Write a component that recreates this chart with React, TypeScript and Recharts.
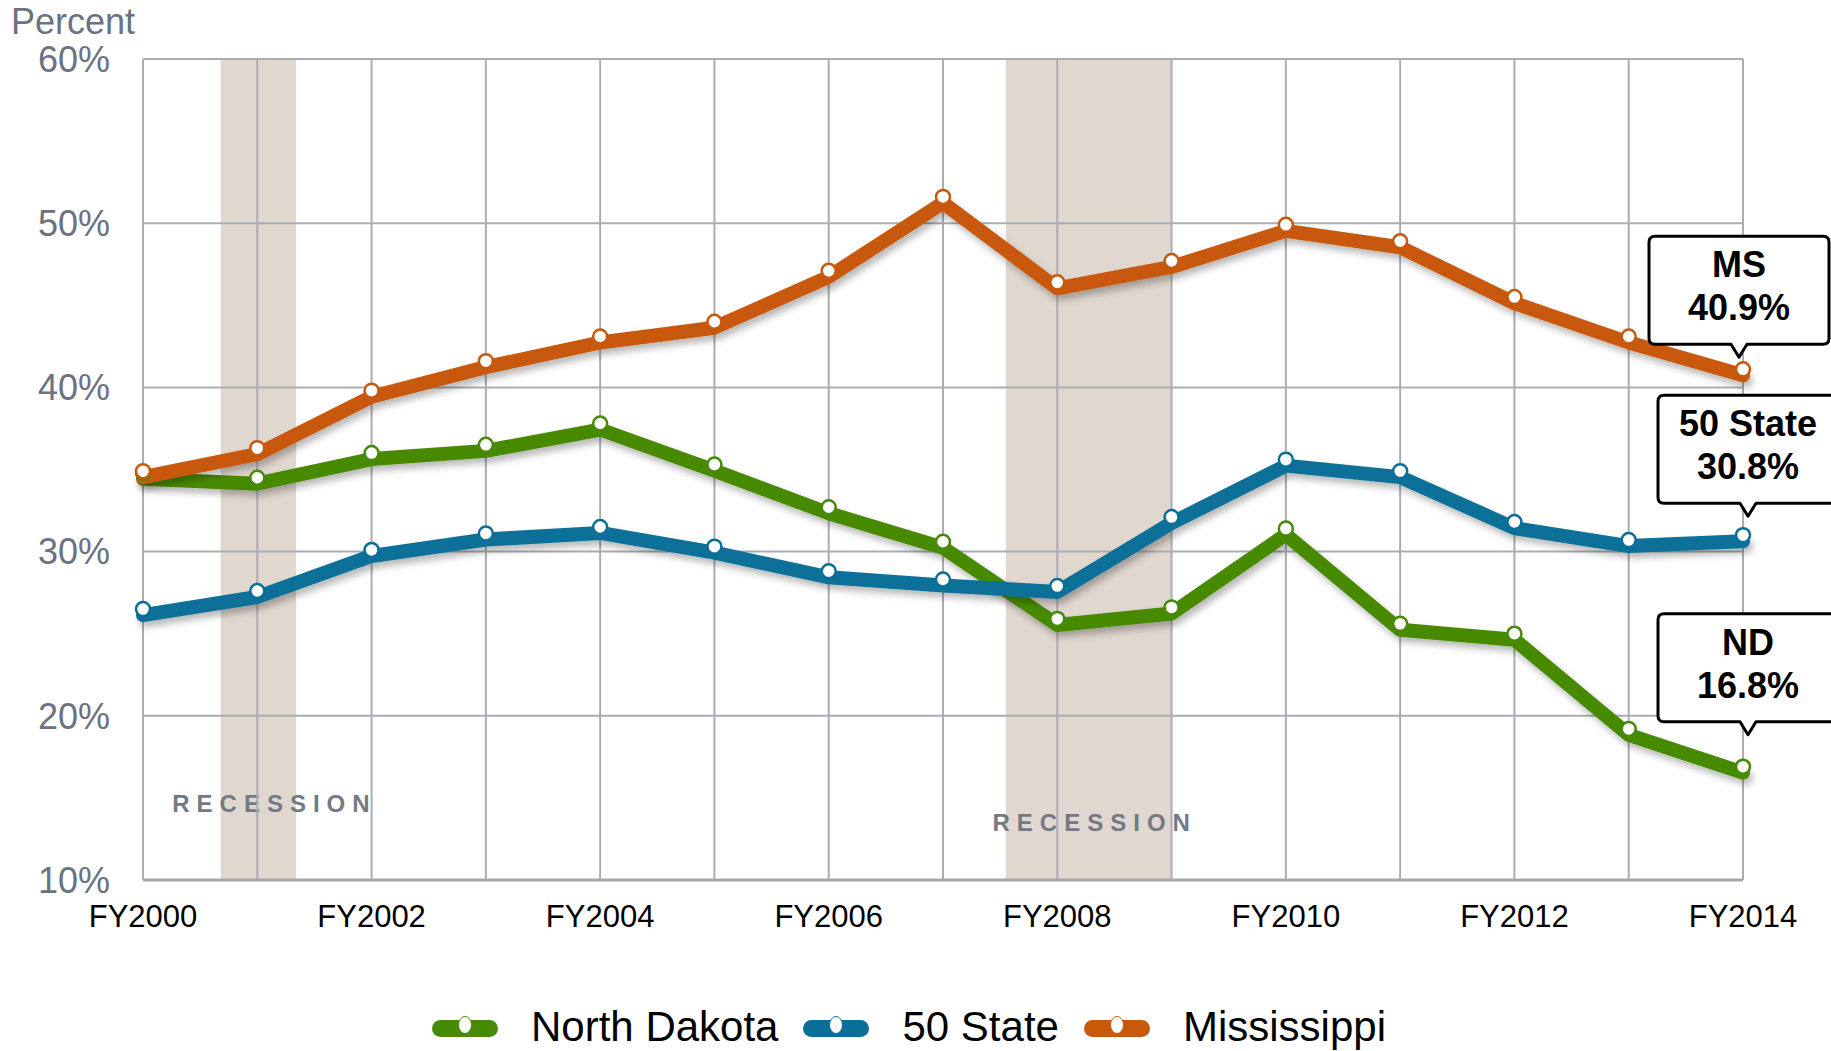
import React from 'react';
import {
  LineChart,
  Line,
  XAxis,
  YAxis,
  ReferenceLine,
  ReferenceArea,
  LabelList,
  Legend,
} from 'recharts';

const YEARS = [2000, 2001, 2002, 2003, 2004, 2005, 2006, 2007, 2008, 2009, 2010, 2011, 2012, 2013, 2014];
const X_TICK_YEARS = [2000, 2002, 2004, 2006, 2008, 2010, 2012, 2014];
const Y_TICKS = [10, 20, 30, 40, 50, 60];

const NORTH_DAKOTA = [34.8, 34.5, 36.0, 36.5, 37.8, 35.3, 32.7, 30.6, 25.9, 26.6, 31.4, 25.6, 25.0, 19.2, 16.9];
const FIFTY_STATE = [26.5, 27.6, 30.1, 31.1, 31.5, 30.3, 28.8, 28.3, 27.9, 32.1, 35.6, 34.9, 31.8, 30.7, 31.0];
const MISSISSIPPI = [34.9, 36.3, 39.8, 41.6, 43.1, 44.0, 47.1, 51.6, 46.4, 47.7, 49.9, 48.9, 45.5, 43.1, 41.1];

const RECESSIONS = [
  { start: 2000.68, end: 2001.34, label: 'RECESSION' },
  { start: 2007.55, end: 2009.0, label: 'RECESSION' },
];

const SERIES = [
  { key: 'nd', name: 'North Dakota', color: '#468a06', title: 'ND', callout: '16.8%' },
  { key: 'us', name: '50 State', color: '#0a6f98', title: '50 State', callout: '30.8%' },
  { key: 'ms', name: 'Mississippi', color: '#c8580a', title: 'MS', callout: '40.9%' },
];

// visual placement of callouts / recession labels (styling only)
const CALLOUT_STYLE: Record<string, { gap: number; dx: number }> = {
  ms: { gap: 25, dx: -4 },
  us: { gap: 32, dx: 5 },
  nd: { gap: 45, dx: 5 },
};
const RECESSION_LABEL_STYLE = [
  { dx: 16, fromBottom: 68 },
  { dx: 6, fromBottom: 49 },
];

const data = YEARS.map((year, i) => ({
  year,
  nd: NORTH_DAKOTA[i],
  us: FIFTY_STATE[i],
  ms: MISSISSIPPI[i],
}));

const FONT = '"Liberation Sans", Arial, Helvetica, sans-serif';
const GRID = '#a9adb4';

function makeCallout(seriesKey: string, title: string, value: string) {
  return (props: any) => {
    const { x, y, index } = props;
    if (index !== YEARS.length - 1 || x == null || y == null) return null;
    const st = CALLOUT_STYLE[seriesKey];
    const w = 180;
    const h = 108;
    const r = 6;
    const cx = x + st.dx;
    const x0 = cx - w / 2;
    const x1 = cx + w / 2;
    const y1 = y - st.gap;
    const y0 = y1 - h;
    const pw = 8;
    const ph = 13;
    const d = `M ${x0 + r} ${y0} H ${x1 - r} Q ${x1} ${y0} ${x1} ${y0 + r} V ${y1 - r} Q ${x1} ${y1} ${x1 - r} ${y1} H ${cx + pw} L ${cx} ${y1 + ph} L ${cx - pw} ${y1} H ${x0 + r} Q ${x0} ${y1} ${x0} ${y1 - r} V ${y0 + r} Q ${x0} ${y0} ${x0 + r} ${y0} Z`;
    return (
      <g>
        <path d={d} fill="#ffffff" stroke="#000000" strokeWidth={3} strokeLinejoin="round" />
        <text x={cx} y={y0 + 41} textAnchor="middle" fontFamily={FONT} fontWeight="bold" fontSize={36} fill="#000">
          {title}
        </text>
        <text x={cx} y={y0 + 84} textAnchor="middle" fontFamily={FONT} fontWeight="bold" fontSize={36} fill="#000">
          {value}
        </text>
      </g>
    );
  };
}

function makeRecessionLabel(text: string, i: number) {
  return (props: any) => {
    const vb = props.viewBox || {};
    const st = RECESSION_LABEL_STYLE[i];
    return (
      <text
        x={vb.x + vb.width / 2 + st.dx}
        y={vb.y + vb.height - st.fromBottom}
        textAnchor="middle"
        fontFamily={FONT}
        fontWeight="bold"
        fontSize={24}
        letterSpacing={7}
        fill="#737a86"
      >
        {text}
      </text>
    );
  };
}

const renderLegend = () => (
  <div
    style={{
      display: 'flex',
      justifyContent: 'center',
      alignItems: 'center',
      fontFamily: FONT,
      fontSize: 42,
      color: '#000',
      height: 50,
      paddingLeft: 10,
      boxSizing: 'border-box',
    }}
  >
    {SERIES.map((s) => (
      <div key={s.key} style={{ display: 'flex', alignItems: 'center', marginRight: 24 }}>
        <svg width={68} height={30} style={{ display: 'block' }}>
          <rect x={1} y={8} width={66} height={17} rx={8.5} fill={s.color} />
          <ellipse cx={34} cy={13} rx={6.5} ry={8.5} fill="#fff" stroke={s.color} strokeWidth={1} />
        </svg>
        <span style={{ marginLeft: 32, lineHeight: '50px' }}>{s.name}</span>
      </div>
    ))}
  </div>
);

export default function App() {
  return (
    <div style={{ position: 'absolute', left: 0, top: 0, width: 1831, height: 1051, background: '#fff' }}>
      <div
        style={{
          position: 'absolute',
          left: 11,
          top: 0,
          fontFamily: FONT,
          fontSize: 36,
          lineHeight: '44px',
          color: '#6b7280',
        }}
      >
        Percent
      </div>
      <LineChart
        width={1831}
        height={1051}
        data={data}
        margin={{ top: 59, right: 88, bottom: 111, left: 0 }}
      >
        <defs>
          <filter id="lineShadow" x="-5%" y="-30%" width="110%" height="160%">
            <feOffset in="SourceGraphic" dx="0" dy="6" result="shifted" />
            <feDropShadow in="shifted" dx="3" dy="5" stdDeviation="3.5" floodColor="#000" floodOpacity="0.28" />
          </filter>
        </defs>
        {RECESSIONS.map((r, i) => (
          <ReferenceArea
            key={`rec-${i}`}
            x1={r.start}
            x2={r.end}
            fill="#e0d7cf"
            fillOpacity={1}
            stroke="none"
            ifOverflow="extendDomain"
            label={makeRecessionLabel(r.label, i)}
          />
        ))}
        {YEARS.map((yr) => (
          <ReferenceLine key={`vx-${yr}`} x={yr} stroke={GRID} strokeWidth={2} />
        ))}
        {Y_TICKS.filter((t) => t > 10).map((t) => (
          <ReferenceLine key={`hy-${t}`} y={t} stroke={GRID} strokeWidth={2} />
        ))}
        <XAxis
          dataKey="year"
          type="number"
          domain={[2000, 2014]}
          ticks={X_TICK_YEARS}
          tickFormatter={(v: number) => `FY${v}`}
          tick={{ fill: '#000', fontSize: 31, fontFamily: FONT }}
          tickLine={false}
          tickSize={0}
          tickMargin={25}
          axisLine={{ stroke: '#a3a7ae', strokeWidth: 3 }}
          height={60}
          allowDecimals={false}
        />
        <YAxis
          type="number"
          domain={[10, 60]}
          ticks={Y_TICKS}
          tickFormatter={(v: number) => `${v}%`}
          tick={{ fill: '#6b7280', fontSize: 36, fontFamily: FONT }}
          axisLine={false}
          tickLine={false}
          tickSize={0}
          tickMargin={33}
          width={143}
        />
        <Legend
          layout="horizontal"
          verticalAlign="middle"
          align="center"
          content={renderLegend}
          wrapperStyle={{ top: 1002, left: 0, width: 1831 }}
        />
        {SERIES.map((s) => (
          <Line
            key={s.key}
            dataKey={s.key}
            name={s.name}
            type="linear"
            stroke={s.color}
            strokeWidth={14}
            strokeLinecap="round"
            strokeLinejoin="round"
            filter="url(#lineShadow)"
            dot={{ r: 7, fill: '#fff', stroke: s.color, strokeWidth: 2.5, filter: 'none' }}
            activeDot={false}
            isAnimationActive={false}
          >
            <LabelList dataKey={s.key} content={makeCallout(s.key, s.title, s.callout)} />
          </Line>
        ))}
      </LineChart>
    </div>
  );
}
